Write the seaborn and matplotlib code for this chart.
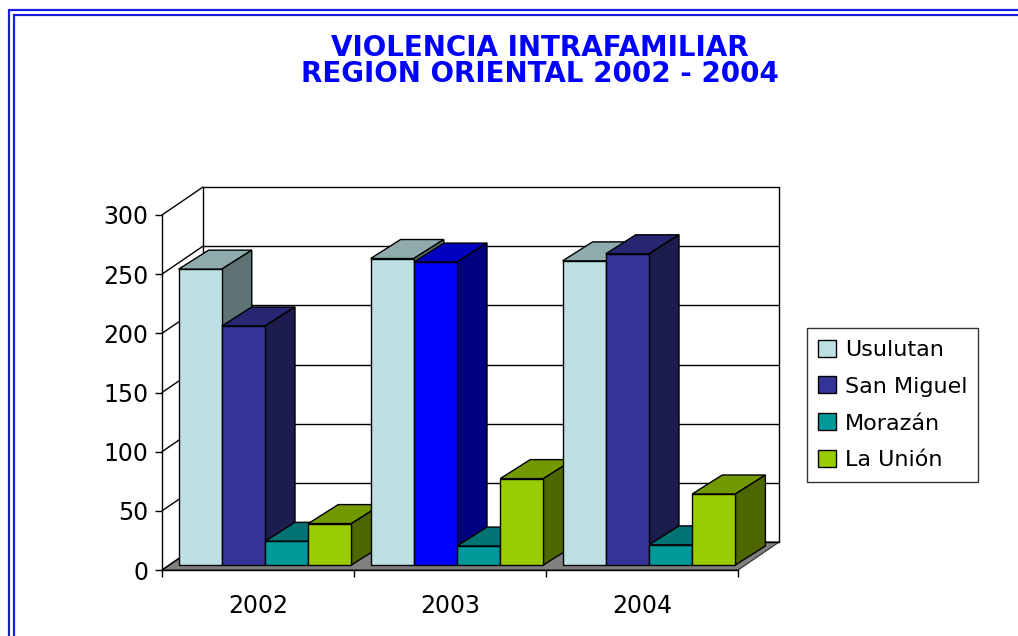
import matplotlib
matplotlib.use("Agg")
import matplotlib.pyplot as plt
from matplotlib.patches import Polygon, Patch
from matplotlib.lines import Line2D
import seaborn as sns
import pandas as pd
import numpy as np

# ── data ────────────────────────────────────────────────────────────────────
YEARS = ["2002", "2003", "2004"]
REGIONS = ["Usulutan", "San Miguel", "Morazán", "La Unión"]
USULUTAN = [250, 259, 257]
SAN_MIGUEL = [202, 256, 263]
MORAZAN = [20, 16, 17]
LA_UNION = [35, 73, 60]
Y_TICKS = [0, 50, 100, 150, 200, 250, 300]
TITLE = "VIOLENCIA INTRAFAMILIAR\nREGION ORIENTAL 2002 - 2004"

# ── style ───────────────────────────────────────────────────────────────────
FRONT = {"Usulutan": "#BCE0E3", "San Miguel": "#333399",
         "Morazán": "#009999", "La Unión": "#99CC00"}
TOP = {"Usulutan": "#8FABAD", "San Miguel": "#262673",
       "Morazán": "#007373", "La Unión": "#739900"}
SIDE = {"Usulutan": "#5F7273", "San Miguel": "#1C1C4D",
        "Morazán": "#004D4D", "La Unión": "#4D6600"}
# the 2003 San Miguel column is pure blue in the original sheet
ODD_BAR = ("2003", "San Miguel")
ODD_COLORS = ("#0000FF", "#0000C0", "#000080")

W, H = 1018, 636
sns.set_style("ticks")
plt.rcParams["font.family"] = ["DejaVu Sans"]
plt.rcParams.update({"text.color": "black", "xtick.color": "black",
                     "ytick.color": "black", "axes.labelcolor": "black"})

fig = plt.figure(figsize=(W / 100, H / 100), dpi=100)

cat_px = 192.0            # width of one category on the front plane
val_px = 355.0 / 300.0    # pixels per value unit
wall = (41 / cat_px, 28 / val_px)    # depth of the back wall
depth = (30 / cat_px, 19 / val_px)   # depth of each column
shift = (7 / cat_px, 5 / val_px)     # columns sit a little behind the front edge

x_lo, x_front = -0.5, len(YEARS) - 0.5
x_hi = x_front + wall[0]
y_top = Y_TICKS[-1]
y_hi = y_top + wall[1]
ax = fig.add_axes([162 / W, (H - 570) / H,
                   (x_hi - x_lo) * cat_px / W, y_hi * val_px / H])

df = pd.DataFrame({
    "year": YEARS * len(REGIONS),
    "region": np.repeat(REGIONS, len(YEARS)),
    "value": USULUTAN + SAN_MIGUEL + MORAZAN + LA_UNION,
})

sns.barplot(data=df, x="year", y="value", hue="region", order=YEARS,
            hue_order=REGIONS, palette=FRONT, width=0.9, saturation=1,
            edgecolor="black", linewidth=1, legend=False, ax=ax)

# ── fake 3D: walls and floor ────────────────────────────────────────────────
ax.add_patch(Polygon([(x_lo, 0), (x_front, 0), (x_hi, wall[1]), (x_lo + wall[0], wall[1])],
                     closed=True, facecolor="#808080", edgecolor="#404040", lw=1,
                     zorder=1, clip_on=False))
for v in Y_TICKS:
    ax.plot([x_lo + wall[0], x_hi], [v + wall[1]] * 2, color="black", lw=1,
            zorder=1.5, clip_on=False)
    ax.plot([x_lo, x_lo + wall[0]], [v, v + wall[1]], color="black", lw=1,
            zorder=1.5, clip_on=False)
for xx in (x_lo + wall[0], x_hi):
    ax.plot([xx, xx], [wall[1], y_hi], color="black", lw=1, zorder=1.5, clip_on=False)

# ── fake 3D: column sides and tops, painted left to right ──────────────────
bars = []
for hi, cont in enumerate(ax.containers):
    for yi, bar in enumerate(cont):
        bars.append((bar.get_x(), YEARS[yi], REGIONS[hi], bar))
bars.sort(key=lambda b: b[0])

for rank, (bx, year, region, bar) in enumerate(bars):
    front, top, side = FRONT[region], TOP[region], SIDE[region]
    if (year, region) == ODD_BAR:
        front, top, side = ODD_COLORS
    x0 = bx + shift[0]
    w = bar.get_width()
    h = bar.get_height()
    y0, y1 = shift[1], shift[1] + h
    bar.set_x(x0)
    bar.set_y(y0)
    bar.set_facecolor(front)
    z = 10 + rank
    bar.set_zorder(z + 0.5)
    ax.add_patch(Polygon([(x0, y1), (x0 + w, y1), (x0 + w + depth[0], y1 + depth[1]),
                          (x0 + depth[0], y1 + depth[1])],
                         closed=True, facecolor=top, edgecolor="black", lw=1, zorder=z))
    ax.add_patch(Polygon([(x0 + w, y0), (x0 + w + depth[0], y0 + depth[1]),
                          (x0 + w + depth[0], y1 + depth[1]), (x0 + w, y1)],
                         closed=True, facecolor=side, edgecolor="black", lw=1, zorder=z))

# ── axes ────────────────────────────────────────────────────────────────────
ax.set_xlim(x_lo, x_hi)
ax.set_ylim(0, y_hi)
ax.set_xlabel("")
ax.set_ylabel("")
for s in ("top", "right"):
    ax.spines[s].set_visible(False)
ax.spines["left"].set_bounds(0, y_top)
ax.spines["bottom"].set_bounds(x_lo, x_front)
for s in ("left", "bottom"):
    ax.spines[s].set_color("black")
    ax.spines[s].set_linewidth(1)
ax.patch.set_alpha(0)

ax.set_yticks(Y_TICKS)
ax.tick_params(axis="y", length=5, width=1, color="black", pad=5, labelsize=17)
ax.set_xticks(range(len(YEARS)))
ax.set_xticklabels(YEARS)
ax.set_xticks(np.arange(len(YEARS) + 1) - 0.5, minor=True)
ax.tick_params(axis="x", which="major", length=0, pad=17, labelsize=17)
ax.tick_params(axis="x", which="minor", length=5, width=1, color="black")

# ── title, legend, frame ────────────────────────────────────────────────────
fig.text(540 / W, 1 - 61 / H, TITLE, ha="center", va="center", fontsize=20,
         fontweight="heavy", color="#0000FF", linespacing=0.92)

handles = [Patch(facecolor=FRONT[r], edgecolor="black", lw=1, label=r) for r in REGIONS]
leg = fig.legend(handles=handles, loc="center left", bbox_to_anchor=(807 / W, 1 - 405 / H),
                 fontsize=16, frameon=True, fancybox=False, edgecolor="black",
                 handlelength=0.8, handleheight=0.8, handletextpad=0.4,
                 labelspacing=0.75, borderpad=0.5, borderaxespad=0)
leg.get_frame().set_linewidth(1)

for off in (9, 14):
    fig.add_artist(Line2D([off / W, 1], [1 - off / H - 1 / H] * 2, color="#1C1CE0", lw=1.6))
    fig.add_artist(Line2D([off / W] * 2, [0, 1 - off / H - 1 / H], color="#1C1CE0", lw=1.6))

fig.savefig("out.png", dpi=100)
